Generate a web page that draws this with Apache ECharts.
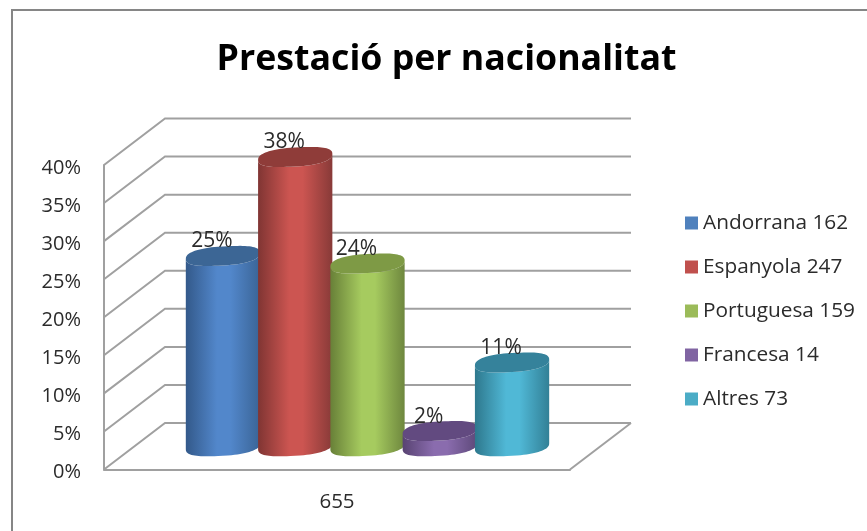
<!DOCTYPE html>
<html>
<head>
<meta charset="utf-8">
<style>
  html, body { margin: 0; padding: 0; background: #fff; }
  #chart { width: 867px; height: 531px; }
</style>
<script src="https://cdn.jsdelivr.net/npm/echarts@6/dist/echarts.min.js"></script>
</head>
<body>
<div id="chart"></div>
<script>
var title = 'Prestació per nacionalitat'
var total = ['655']
var categories = ['Andorrana', 'Espanyola', 'Portuguesa', 'Francesa', 'Altres']
var counts = [162, 247, 159, 14, 73]
var percents = [25, 38, 24, 2, 11]
var yTicks = [0, 5, 10, 15, 20, 25, 30, 35, 40]

// colours of each cylinder: legend, side edge left, side middle, side edge right, top
var legendColors = ['#4f81bd', '#c0504d', '#9bbb59', '#8064a2', '#4bacc6']
var edgeLeft = ['#33598a', '#803533', '#688038', '#584372', '#2e788d']
var middle = ['#5287cb', '#cc5551', '#a6cb5f', '#8a6cae', '#50b8d6']
var edgeRight = ['#3a6496', '#883a38', '#6e873e', '#5e497a', '#328096']
var topColors = ['#3c6695', '#8f3c39', '#7e9a45', '#624a80', '#35829b']

var FONT = '"Open Sans", sans-serif'
var TEXT = '#2b2b2b'
var LINE = '#a0a0a0'

// the fake 3d box: how far the back wall sits from the front plane
var DEPTH_X = 61
var DEPTH_Y = -46.5
var BAR_SHARE = 0.1551 // bar width as part of the category band

function wallItem(params, api) {
  var p = api.coord([0, api.value(1)])
  var band = api.size([1, 0])[0]
  var x0 = p[0] - band / 2
  var x1 = p[0] + band / 2
  var children = [{
    type: 'polyline',
    shape: { points: [[x0, p[1]], [x0 + DEPTH_X, p[1] + DEPTH_Y], [x1 + DEPTH_X, p[1] + DEPTH_Y]] },
    style: { fill: null, stroke: LINE, lineWidth: 2 }
  }]
  if (api.value(1) === 0) {
    children.push({
      type: 'line',
      shape: { x1: x1, y1: p[1], x2: x1 + DEPTH_X, y2: p[1] + DEPTH_Y },
      style: { stroke: LINE, lineWidth: 2 }
    })
  }
  return { type: 'group', children: children }
}

function ellipsePoint(cx, cy, a, t) {
  // rounder than a true ellipse, and tilted: right side up, left side down
  var c = Math.cos(t)
  var s = Math.sin(t)
  var rc = (c < 0 ? -1 : 1) * Math.pow(Math.abs(c), 0.8)
  var rs = (s < 0 ? -1 : 1) * Math.pow(Math.abs(s), 0.8)
  return [cx + a * rc, cy + 9.5 * rs - 3 * c]
}

function cylinderItem(idx) {
  return function (params, api) {
    var band = api.size([1, 0])[0]
    var slot = band * BAR_SHARE
    var center = api.coord([0, 0])[0] + DEPTH_X / 2 + (idx - 2) * slot
    var base = api.coord([0, 0])[1] + DEPTH_Y / 2
    var top = api.coord([0, api.value(1)])[1] + DEPTH_Y / 2
    var a = slot / 2 + 1
    var side = []
    var cap = []
    var i
    for (i = 0; i <= 40; i++) side.push(ellipsePoint(center, base, a, Math.PI * i / 40))
    for (i = 40; i >= 0; i--) side.push(ellipsePoint(center, top, a, Math.PI * i / 40))
    for (i = 0; i < 80; i++) cap.push(ellipsePoint(center, top, a, Math.PI * i / 40))
    return {
      type: 'group',
      children: [{
        type: 'polygon',
        shape: { points: side },
        style: {
          fill: new echarts.graphic.LinearGradient(0, 0, 1, 0, [
            { offset: 0, color: edgeLeft[idx] },
            { offset: 0.42, color: middle[idx] },
            { offset: 0.6, color: middle[idx] },
            { offset: 1, color: edgeRight[idx] }
          ])
        }
      }, {
        type: 'polygon',
        shape: { points: cap },
        style: { fill: topColors[idx] }
      }, {
        type: 'text',
        z2: 50,
        style: {
          x: center - 11,
          y: top - 14.5,
          text: percents[idx] + '%',
          align: 'center',
          verticalAlign: 'middle',
          fontFamily: FONT,
          fontSize: 21,
          fill: TEXT
        }
      }]
    }
  }
}

var series = [{
  name: 'walls',
  type: 'custom',
  renderItem: wallItem,
  silent: true,
  data: yTicks.map(function (v) { return [0, v] })
}]
categories.forEach(function (c, i) {
  series.push({
    name: c + ' ' + counts[i],
    type: 'custom',
    renderItem: cylinderItem(i),
    itemStyle: { color: legendColors[i] },
    data: [[0, percents[i]]]
  })
})

var chart = echarts.init(document.getElementById('chart'))
chart.setOption({
  animation: false,
  title: {
    text: title,
    left: 441.5,
    top: 37,
    textAlign: 'center',
    textStyle: { fontFamily: FONT, fontSize: 35.7, fontWeight: 'bold', color: '#000' }
  },
  legend: {
    orient: 'vertical',
    left: 680,
    top: 206,
    icon: 'rect',
    itemWidth: 13,
    itemHeight: 13,
    itemGap: 20,
    selectedMode: false,
    data: categories.map(function (c, i) { return c + ' ' + counts[i] }),
    textStyle: { fontFamily: FONT, fontSize: 20.8, color: TEXT, lineHeight: 24, height: 24 }
  },
  graphic: [{
    type: 'rect',
    silent: true,
    shape: { x: 12, y: 10, width: 900, height: 600 },
    style: { fill: null, stroke: '#868686', lineWidth: 2 }
  }],
  grid: { left: 104, top: 165, width: 466, height: 304.5 },
  xAxis: {
    type: 'category',
    data: total,
    axisTick: { show: false },
    axisLine: { lineStyle: { color: LINE, width: 2 } },
    axisLabel: { fontFamily: FONT, fontSize: 20.5, color: TEXT, margin: 22 }
  },
  yAxis: {
    type: 'value',
    min: 0,
    max: 40,
    interval: 5,
    axisTick: { show: false },
    axisLine: { show: true, lineStyle: { color: LINE, width: 2 } },
    splitLine: { show: false },
    axisLabel: {
      formatter: '{value}%',
      fontFamily: FONT,
      fontSize: 20,
      color: TEXT,
      margin: 23,
      verticalAlign: 'top',
      lineHeight: 6
    }
  },
  series: series
})
</script>
</body>
</html>
